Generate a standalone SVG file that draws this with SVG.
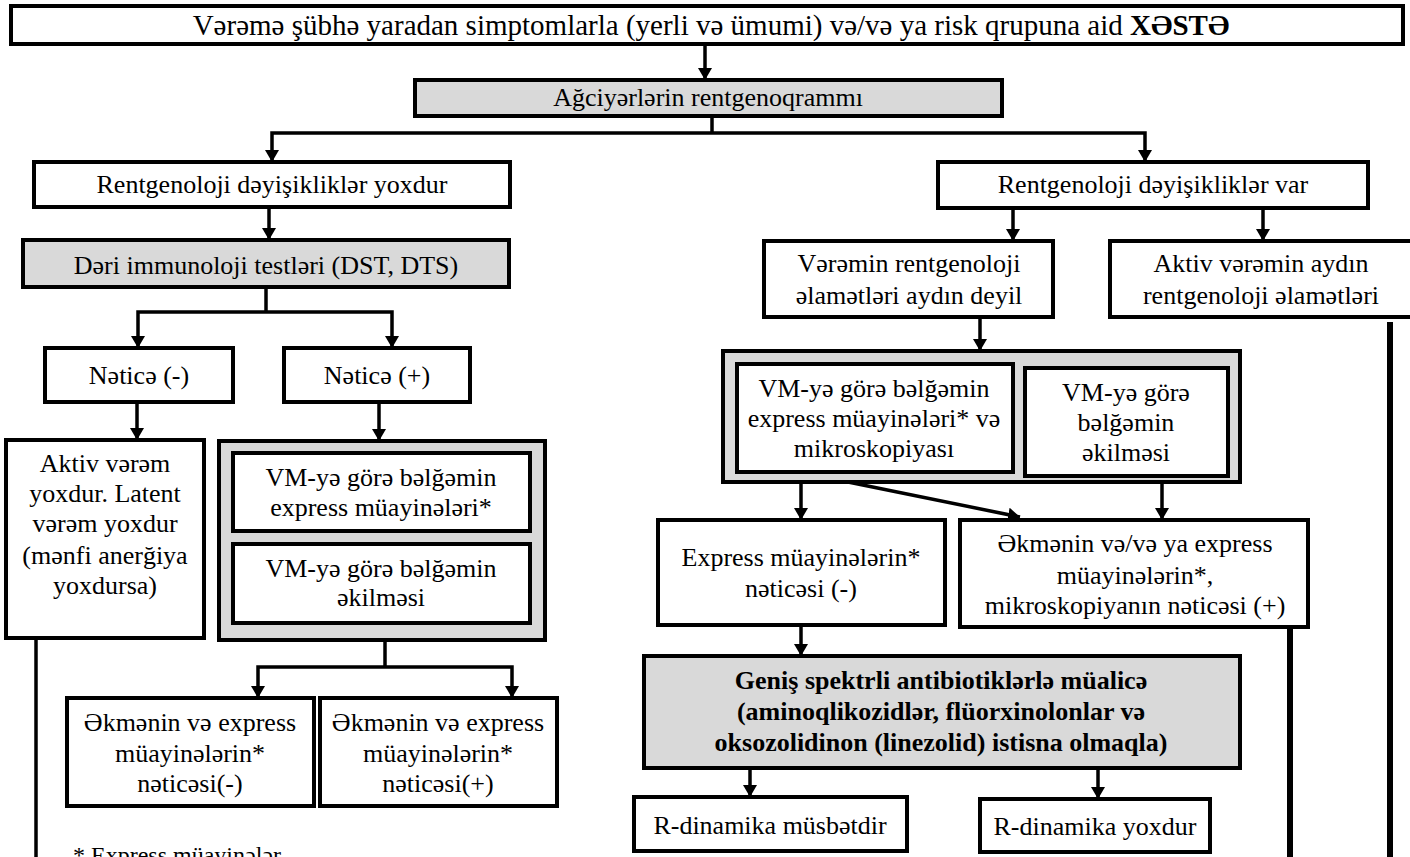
<svg xmlns="http://www.w3.org/2000/svg" width="1410" height="857" viewBox="0 0 1410 857">
<defs>
<marker id="ah" viewBox="0 0 12 14" refX="12" refY="7" markerWidth="12" markerHeight="14" markerUnits="userSpaceOnUse" orient="auto">
<path d="M0 0 L12 7 L0 14 Z" fill="#000"/>
</marker>
</defs>
<style>
text{font-family:"Liberation Serif","Times New Roman",serif;font-size:26px;fill:#000;text-anchor:middle}
.b{fill:#fff;stroke:#000;stroke-width:4}
.g{fill:#d9d9d9;stroke:#000;stroke-width:4}
.c{fill:none;stroke:#000;stroke-width:3.5}
.a{fill:none;stroke:#000;stroke-width:3.5;marker-end:url(#ah)}
.t{fill:none;stroke:#000;stroke-width:6}
.bold{font-weight:bold}
</style>
<rect width="1410" height="857" fill="#fff"/>

<g id="n-top">
<rect class="b" x="11" y="6" width="1392" height="38"/>
<text x="711" y="35" style="font-size:29px">Vərəmə şübhə yaradan simptomlarla (yerli və ümumi) və/və ya risk qrupuna aid <tspan class="bold">XƏSTƏ</tspan></text>
</g>
<g id="n-xray">
<rect class="g" x="415" y="80" width="587" height="36"/>
<text x="708" y="106">Ağciyərlərin rentgenoqrammı</text>
</g>
<g id="n-nochange">
<rect class="b" x="34" y="162" width="476" height="45"/>
<text x="272" y="193">Rentgenoloji dəyişikliklər yoxdur</text>
</g>
<g id="n-change">
<rect class="b" x="938" y="162" width="430" height="46"/>
<text x="1153" y="193">Rentgenoloji dəyişikliklər var</text>
</g>
<g id="n-skin">
<rect class="g" x="23" y="240" width="486" height="47"/>
<text x="266" y="274">Dəri immunoloji testləri (DST, DTS)</text>
</g>
<g id="n-neg">
<rect class="b" x="45" y="348" width="188" height="54"/>
<text x="139" y="384">Nəticə (-)</text>
</g>
<g id="n-pos">
<rect class="b" x="284" y="348" width="186" height="54"/>
<text x="377" y="384">Nəticə (+)</text>
</g>
<g id="n-noactive">
<rect class="b" x="6" y="440" width="198" height="198"/>
<text x="105" y="472">Aktiv vərəm</text>
<text x="105" y="502">yoxdur. Latent</text>
<text x="105" y="532">vərəm yoxdur</text>
<text x="105" y="564">(mənfi anerğiya</text>
<text x="105" y="594">yoxdursa)</text>
</g>
<g id="n-sputum-left">
<rect class="g" x="219" y="441" width="326" height="199"/>
<rect class="b" x="233" y="453" width="297" height="78"/>
<text x="381" y="486">VM-yə görə bəlğəmin</text>
<text x="381" y="516">express müayinələri*</text>
<rect class="b" x="233" y="544" width="297" height="79"/>
<text x="381" y="577">VM-yə görə bəlğəmin</text>
<text x="381" y="606">əkilməsi</text>
</g>
<g id="n-cult-neg">
<rect class="b" x="67" y="698" width="247" height="108"/>
<text x="190" y="731">Əkmənin və express</text>
<text x="190" y="762">müayinələrin*</text>
<text x="190" y="792">nəticəsi(-)</text>
</g>
<g id="n-cult-pos">
<rect class="b" x="320" y="698" width="237" height="108"/>
<text x="438" y="731">Əkmənin və express</text>
<text x="438" y="762">müayinələrin*</text>
<text x="438" y="792">nəticəsi(+)</text>
</g>
<g id="n-footnote">
<text x="73" y="863" style="text-anchor:start;font-size:24px">* Express müayinələr</text>
</g>

<g id="n-unclear">
<rect class="b" x="764" y="241" width="289" height="76"/>
<text x="909" y="272">Vərəmin rentgenoloji</text>
<text x="909" y="304">əlamətləri aydın deyil</text>
</g>
<g id="n-active">
<rect class="b" x="1110" y="241" width="320" height="76"/>
<text x="1261" y="272">Aktiv vərəmin aydın</text>
<text x="1261" y="304">rentgenoloji əlamətləri</text>
</g>
<g id="n-sputum-right">
<rect class="g" x="723" y="351" width="517" height="131"/>
<rect class="b" x="737" y="364" width="276" height="108"/>
<text x="874" y="397">VM-yə görə bəlğəmin</text>
<text x="874" y="427">express müayinələri* və</text>
<text x="874" y="457">mikroskopiyası</text>
<rect class="b" x="1025" y="368" width="203" height="108"/>
<text x="1126" y="401">VM-yə görə</text>
<text x="1126" y="431">bəlğəmin</text>
<text x="1126" y="461">əkilməsi</text>
</g>
<g id="n-express-neg">
<rect class="b" x="658" y="520" width="287" height="105"/>
<text x="801" y="566">Express müayinələrin*</text>
<text x="801" y="597">nəticəsi (-)</text>
</g>
<g id="n-express-pos">
<rect class="b" x="960" y="520" width="348" height="107"/>
<text x="1135" y="552">Əkmənin və/və ya express</text>
<text x="1135" y="584">müayinələrin*,</text>
<text x="1135" y="614">mikroskopiyanın nəticəsi (+)</text>
</g>
<g id="n-antibiotics">
<rect class="g" x="644" y="656" width="596" height="112"/>
<text class="bold" x="941" y="689">Geniş spektrli antibiotiklərlə müalicə</text>
<text class="bold" x="941" y="720">(aminoqlikozidlər, flüorxinolonlar və</text>
<text class="bold" x="941" y="751">oksozolidinon (linezolid) istisna olmaqla)</text>
</g>
<g id="n-rpos">
<rect class="b" x="634" y="797" width="273" height="54"/>
<text x="770" y="834">R-dinamika müsbətdir</text>
</g>
<g id="n-rnone">
<rect class="b" x="980" y="799" width="230" height="53"/>
<text x="1095" y="835">R-dinamika yoxdur</text>
</g>

<g id="connectors">
<path class="a" d="M705 44 V80"/>
<path class="c" d="M712 116 V133"/>
<path class="a" d="M712 133 H272 V162"/>
<path class="a" d="M712 133 H1145 V162"/>
<path class="a" d="M269 207 V240"/>
<path class="c" d="M266 287 V312"/>
<path class="a" d="M266 312 H138 V348"/>
<path class="a" d="M266 312 H392 V348"/>
<path class="a" d="M137 402 V440"/>
<path class="a" d="M379 402 V441"/>
<path class="c" d="M385 640 V667"/>
<path class="a" d="M385 667 H258 V698"/>
<path class="a" d="M385 667 H512 V698"/>
<path class="c" d="M36 640 V857"/>
<path class="a" d="M1013 208 V241"/>
<path class="a" d="M1263 208 V241"/>
<path class="a" d="M980 317 V351"/>
<path class="t" d="M1390 322 V857"/>
<path class="a" d="M801 482 V520"/>
<path class="a" d="M848 482 L1020 517"/>
<path class="a" d="M1162 482 V520"/>
<path class="a" d="M801 625 V656"/>
<path class="t" d="M1290 628 V857"/>
<path class="a" d="M750 768 V797"/>
<path class="a" d="M1098 768 V799"/>
</g>
</svg>
